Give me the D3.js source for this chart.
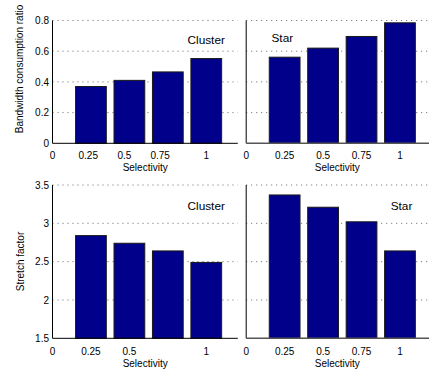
<!DOCTYPE html>
<html>
<head>
<meta charset="utf-8">
<script src="https://cdn.jsdelivr.net/npm/d3@7"></script>
<style>
  html, body { margin: 0; padding: 0; background: #fff; }
  svg { display: block; font-family: "Liberation Sans", Arial, Helvetica, sans-serif; }
</style>
</head>
<body>
<svg id="chart" width="429" height="371"></svg>
<script>
// Bar positions (1..4) and the selectivity labels shown on each x axis
const barSlots = [1, 2, 3, 4];
const clusterBandwidth = [0.37, 0.41, 0.465, 0.552];
const starBandwidth = [0.561, 0.62, 0.696, 0.785];
const clusterStretch = [2.84, 2.74, 2.64, 2.49];
const starStretch = [3.37, 3.21, 3.02, 2.64];

const xTickLabels = ["0", "0.25", "0.5", "0.75", "1"];
const xTicksTopLeft = [0, 0.93, 1.87, 2.8, 4];
const xTicksBottomLeft = [0, 1, 2, null, 4];
const xTicksRight = [0, 1, 2, 3, 4];

const bandwidthTicks = [0, 0.2, 0.4, 0.6, 0.8];
const stretchTicks = [1.5, 2, 2.5, 3, 3.5];

const svg = d3.select("#chart");
const barColor = "#00008b";
const xDomain = [0, 4.82];

const colLeft = { x0: 52.5, x1: 237.8 };
const colRight = { x0: 246.2, x1: 431.5 };
const rowTop = { y0: 143.3, y1: 20.5, domain: [0, 0.8], ticks: bandwidthTicks, tickFmt: d3.format(".1~f"),
                 tickBase: 158.5, titleBase: 170.5 };
const rowBottom = { y0: 338.3, y1: 185, domain: [1.5, 3.5], ticks: stretchTicks, tickFmt: d3.format("~g"),
                    tickBase: 354.5, titleBase: 366.5 };

const panels = [
  { col: colLeft,  row: rowTop,    values: clusterBandwidth, xticks: xTicksTopLeft,    name: "Cluster", nameX: 187.5, nameY: 43.5, yLabels: true,  axisColor: "#000" },
  { col: colRight, row: rowTop,    values: starBandwidth,    xticks: xTicksRight,      name: "Star",    nameX: 271.5, nameY: 42,   yLabels: false, axisColor: "#555" },
  { col: colLeft,  row: rowBottom, values: clusterStretch,   xticks: xTicksBottomLeft, name: "Cluster", nameX: 187.5, nameY: 209.5, yLabels: true, axisColor: "#000" },
  { col: colRight, row: rowBottom, values: starStretch,      xticks: xTicksRight,      name: "Star",    nameX: 390.7, nameY: 210,  yLabels: false, axisColor: "#555" }
];

panels.forEach(p => {
  const x = d3.scaleLinear().domain(xDomain).range([p.col.x0, p.col.x1]);
  const y = d3.scaleLinear().domain(p.row.domain).range([p.row.y0, p.row.y1]);
  const g = svg.append("g");

  // dotted horizontal grid
  g.selectAll("line.grid")
    .data(p.row.ticks.slice(1))
    .join("line")
    .attr("x1", p.col.x0).attr("x2", p.col.x1)
    .attr("y1", d => y(d)).attr("y2", d => y(d))
    .attr("stroke", "#666").attr("stroke-width", 1)
    .attr("stroke-dasharray", "1,4");

  // bars, width 0.8 of the slot
  const bw = 0.8;
  g.selectAll("rect.bar")
    .data(barSlots.map((s, i) => ({ s, v: p.values[i] })))
    .join("rect")
    .attr("x", d => x(d.s - bw / 2))
    .attr("width", d => x(d.s + bw / 2) - x(d.s - bw / 2))
    .attr("y", d => y(d.v))
    .attr("height", d => y(p.row.domain[0]) - y(d.v))
    .attr("fill", barColor)
    .attr("stroke", "#1a1a1a").attr("stroke-width", 1);

  // axis lines
  g.append("line")
    .attr("x1", p.col.x0).attr("x2", p.col.x0)
    .attr("y1", p.row.y0).attr("y2", p.row.y1)
    .attr("stroke", "#000").attr("stroke-width", 1);
  g.append("line")
    .attr("x1", p.col.x0).attr("x2", p.col.x1)
    .attr("y1", p.row.y0).attr("y2", p.row.y0)
    .attr("stroke", p.axisColor).attr("stroke-width", p.axisColor === "#000" ? 1 : 1.6);

  // x tick labels
  g.selectAll("text.xt")
    .data(p.xticks.map((t, i) => ({ t, label: xTickLabels[i] })).filter(d => d.t !== null))
    .join("text")
    .attr("x", d => x(d.t))
    .attr("y", p.row.tickBase)
    .attr("text-anchor", "middle")
    .attr("font-size", 10)
    .attr("fill", "#000")
    .text(d => d.label);

  // x title
  g.append("text")
    .attr("x", (p.col.x0 + p.col.x1) / 2 - (p.col === colRight ? 1.5 : 0))
    .attr("y", p.row.titleBase)
    .attr("text-anchor", "middle")
    .attr("font-size", 10)
    .text("Selectivity");

  // y tick labels
  if (p.yLabels) {
    g.selectAll("text.yt")
      .data(p.row.ticks)
      .join("text")
      .attr("x", p.col.x0 - 3.5)
      .attr("y", d => y(d) + 3.6)
      .attr("text-anchor", "end")
      .attr("font-size", 10)
      .text(d => p.row.tickFmt(d));
  }

  // topology name
  g.append("text")
    .attr("x", p.nameX)
    .attr("y", p.nameY)
    .attr("font-size", 11.8)
    .text(p.name);
});

// y axis titles
svg.append("text")
  .attr("transform", "translate(23,69) rotate(-90)")
  .attr("text-anchor", "middle")
  .attr("font-size", 10)
  .text("Bandwidth consumption ratio");
svg.append("text")
  .attr("transform", "translate(24,261.5) rotate(-90)")
  .attr("text-anchor", "middle")
  .attr("font-size", 10)
  .text("Stretch factor");
</script>
</body>
</html>
